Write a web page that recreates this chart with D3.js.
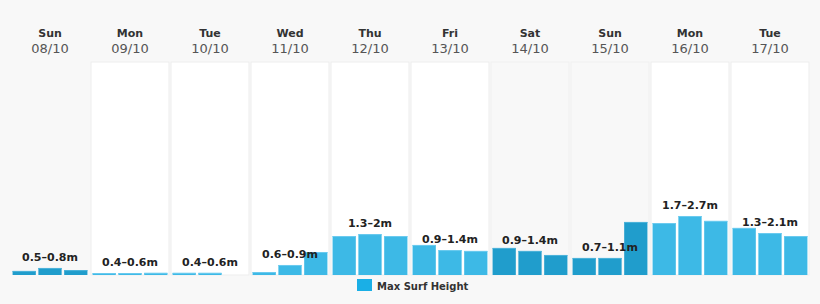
<!DOCTYPE html>
<html>
<head>
<meta charset="utf-8">
<script src="https://cdn.jsdelivr.net/npm/d3@7"></script>
<style>
  body { margin: 0; background: #f8f8f8; }
  svg { display: block; }
</style>
</head>
<body>
<div id="chart"></div>
<script>
const dayNames = ["Sun", "Mon", "Tue", "Wed", "Thu", "Fri", "Sat", "Sun", "Mon", "Tue"];
const dates = ["08/10", "09/10", "10/10", "11/10", "12/10", "13/10", "14/10", "15/10", "16/10", "17/10"];
const ranges = ["0.5–0.8m", "0.4–0.6m", "0.4–0.6m", "0.6–0.9m", "1.3–2m", "0.9–1.4m", "0.9–1.4m", "0.7–1.1m", "1.7–2.7m", "1.3–2.1m"];
// three readings per day (m)
const heights = [
  [0.19, 0.33, 0.23],
  [0.09, 0.09, 0.1],
  [0.1, 0.1, 0],
  [0.14, 0.47, 1.08],
  [1.83, 1.92, 1.83],
  [1.41, 1.17, 1.13],
  [1.27, 1.13, 0.94],
  [0.8, 0.8, 2.49],
  [2.44, 2.77, 2.54],
  [2.21, 1.97, 1.83]
];
const seriesName = "Max Surf Height";

const width = 820, height = 304;
const plotTop = 62, plotBottom = 275, plotLeft = 10, plotRight = 810;

const svg = d3.select("#chart").append("svg")
  .attr("width", width).attr("height", height)
  .style("font-family", "'DejaVu Sans', sans-serif");

svg.append("rect").attr("width", width).attr("height", height).attr("fill", "#f8f8f8");

const isWeekend = (i) => dayNames[i] === "Sat" || dayNames[i] === "Sun";

const x = d3.scaleBand().domain(d3.range(dayNames.length)).range([plotLeft, plotRight]);
const y = d3.scaleLinear().domain([0, 10]).range([plotBottom, plotTop]);

const bars = heights.flatMap((vals, i) => vals.map((v, k) => ({ day: i, k, v })));
const xSub = d3.scaleBand().domain(d3.range(3)).range([0, x.bandwidth()]).padding(0.1);

// day columns
svg.append("g")
  .selectAll("rect")
  .data(d3.range(dayNames.length))
  .join("rect")
  .attr("x", (i) => x(i) + 1)
  .attr("y", plotTop)
  .attr("width", x.bandwidth() - 2)
  .attr("height", plotBottom - plotTop)
  .attr("fill", (i) => (isWeekend(i) ? "#f8f8f8" : "#ffffff"))
  .attr("stroke", (i) => (i === 0 ? "none" : isWeekend(i) ? "#f0f0f0" : "#ededed"))
  .attr("stroke-width", 1);

// header
const head = svg.append("g").attr("text-anchor", "middle");
head.selectAll("text.day")
  .data(dayNames)
  .join("text")
  .attr("class", "day")
  .attr("x", (d, i) => x(i) + x.bandwidth() / 2)
  .attr("y", 37)
  .attr("font-size", 11)
  .attr("font-weight", "bold")
  .attr("fill", "#333")
  .text((d) => d);
head.selectAll("text.date")
  .data(dates)
  .join("text")
  .attr("class", "date")
  .attr("x", (d, i) => x(i) + x.bandwidth() / 2)
  .attr("y", 53)
  .attr("font-size", 13)
  .attr("fill", "#555")
  .text((d) => d);

// bars
svg.append("g")
  .selectAll("rect")
  .data(bars.filter((d) => d.v > 0))
  .join("rect")
  .attr("x", (d) => x(d.day) + xSub(d.k))
  .attr("y", (d) => y(d.v))
  .attr("width", xSub.bandwidth())
  .attr("height", (d) => y(0) - y(d.v))
  .attr("fill", (d) => (isWeekend(d.day) ? "#209dcc" : "#3db9e6"));

// bar tops
svg.append("g")
  .selectAll("line")
  .data(bars.filter((d) => d.v > 0))
  .join("line")
  .attr("x1", (d) => x(d.day) + xSub(d.k))
  .attr("x2", (d) => x(d.day) + xSub(d.k) + xSub.bandwidth())
  .attr("y1", (d) => y(d.v) + 0.5)
  .attr("y2", (d) => y(d.v) + 0.5)
  .attr("stroke", (d) => (isWeekend(d.day) ? "#4db3da" : "#6ccbef"))
  .attr("stroke-width", 1);

// range labels, above the middle reading
svg.append("g")
  .attr("text-anchor", "middle")
  .selectAll("text")
  .data(ranges)
  .join("text")
  .attr("x", (d, i) => x(i) + x.bandwidth() / 2)
  .attr("y", (d, i) => y(heights[i][1]) - 7)
  .attr("font-size", 11)
  .attr("font-weight", "bold")
  .attr("fill", "#222")
  .text((d) => d);

// legend
const legend = svg.append("g").attr("transform", "translate(357,279)");
legend.append("rect").attr("width", 15).attr("height", 12).attr("fill", "#1aafe6");
legend.append("text")
  .attr("x", 20).attr("y", 11)
  .attr("font-size", 10)
  .attr("font-weight", "bold")
  .attr("fill", "#333")
  .text(seriesName);
</script>
</body>
</html>
